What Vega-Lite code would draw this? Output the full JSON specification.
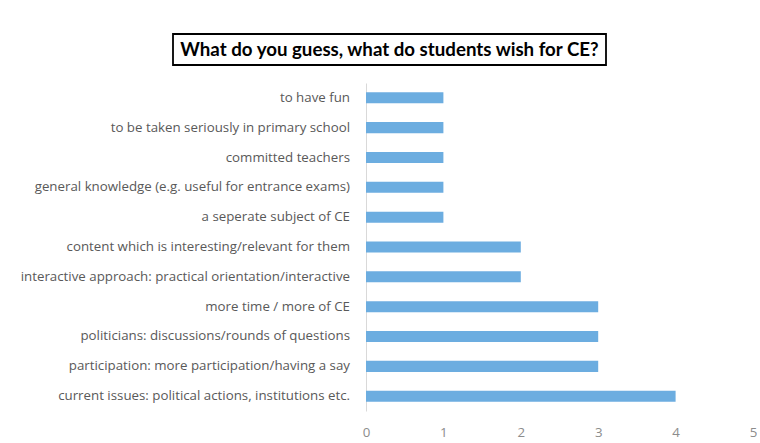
{
  "$schema": "https://vega.github.io/schema/vega-lite/v6.json",
  "padding": {"top": 33, "left": 20, "right": 0, "bottom": 0},
  "background": "white",
  "spacing": 17,
  "config": {
    "font": "Open Sans",
    "view": {"stroke": null}
  },
  "datasets": {
    "wishes": [
      {"order": 1, "wish": "to have fun", "count": 1},
      {"order": 2, "wish": "to be taken seriously in primary school", "count": 1},
      {"order": 3, "wish": "committed teachers", "count": 1},
      {"order": 4, "wish": "general knowledge (e.g. useful for entrance exams)", "count": 1},
      {"order": 5, "wish": "a seperate subject of CE", "count": 1},
      {"order": 6, "wish": "content which is interesting/relevant for them", "count": 2},
      {"order": 7, "wish": "interactive approach: practical orientation/interactive", "count": 2},
      {"order": 8, "wish": "more time / more of CE", "count": 3},
      {"order": 9, "wish": "politicians: discussions/rounds of questions", "count": 3},
      {"order": 10, "wish": "participation: more participation/having a say", "count": 3},
      {"order": 11, "wish": "current issues: political actions, institutions etc.", "count": 4}
    ]
  },
  "vconcat": [
    {
      "width": 433,
      "height": 31,
      "view": {"stroke": "black", "strokeWidth": 1.8},
      "data": {"values": [{"title": "What do you guess, what do students wish for CE?"}]},
      "mark": {"type": "text", "font": "Lato", "fontWeight": "bold", "fontSize": 18.7, "color": "black", "align": "center", "baseline": "middle"},
      "encoding": {"text": {"field": "title"}}
    },
    {
      "spacing": 12,
      "data": {"name": "wishes"},
      "hconcat": [
        {
          "width": 177,
          "height": 328,
          "mark": {"type": "text", "align": "right", "baseline": "middle", "fontSize": 13.3, "color": "#595959", "font": "Open Sans"},
          "encoding": {
            "y": {
              "field": "wish",
              "type": "nominal",
              "sort": {"field": "order"},
              "scale": {"paddingInner": 0.63, "paddingOuter": 0.31},
              "axis": null
            },
            "x": {"datum": 1, "type": "quantitative", "scale": {"domain": [0, 1]}, "axis": null},
            "text": {"field": "wish"}
          }
        },
        {
          "width": 387,
          "height": 328,
          "mark": {"type": "bar", "color": "#6cade0"},
          "encoding": {
            "y": {
              "field": "wish",
              "type": "nominal",
              "sort": {"field": "order"},
              "scale": {"paddingInner": 0.63, "paddingOuter": 0.31},
              "axis": {
                "title": null,
                "ticks": false,
                "labels": false,
                "domainColor": "#d9d9d9",
                "domainWidth": 1
              }
            },
            "x": {
              "field": "count",
              "type": "quantitative",
              "scale": {"domain": [0, 5]},
              "axis": {
                "title": null,
                "grid": false,
                "domain": false,
                "ticks": false,
                "values": [0, 1, 2, 3, 4, 5],
                "labelOverlap": false,
                "labelFlush": false,
                "labelPadding": 14,
                "labelFontSize": 13.3,
                "labelColor": "#8c8c8c"
              }
            }
          }
        }
      ]
    }
  ]
}
